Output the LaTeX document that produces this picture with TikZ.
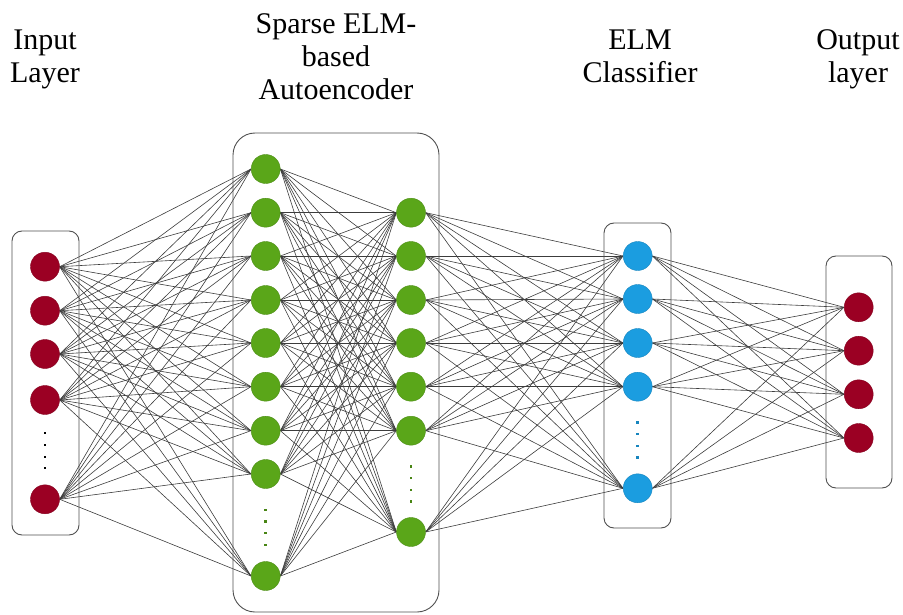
\documentclass[tikz,border=0pt]{standalone}
\usepackage{fontspec}
\setmainfont{Liberation Serif}
\usetikzlibrary{backgrounds}
\definecolor{inred}{RGB}{155,0,35}
\definecolor{aegreen}{RGB}{90,166,25}
\definecolor{elmblue}{RGB}{27,157,224}
\definecolor{framegray}{RGB}{80,80,80}
\definecolor{edgegray}{RGB}{60,60,60}
\begin{document}
\begin{tikzpicture}[x=1pt,y=-1pt,
  neuron/.style={circle,minimum size=29pt,inner sep=0pt,line width=0.4pt},
  redn/.style={neuron,fill=inred,draw=inred!85!black},
  greenn/.style={neuron,fill=aegreen,draw=aegreen!85!black},
  bluen/.style={neuron,fill=elmblue,draw=elmblue!85!black},
  edge/.style={draw=edgegray,line width=0.6pt},
  layerbox/.style={draw=framegray,line width=0.9pt},
  title/.style={align=center,anchor=base,font=\fontsize{30}{33}\selectfont}]
\useasboundingbox (0,0) rectangle (903,615);

% layer frames
\draw[layerbox,rounded corners=10pt] (12,231) rectangle (79,535);
\draw[layerbox,rounded corners=22pt] (233,133) rectangle (439,612);
\draw[layerbox,rounded corners=10pt] (604,223) rectangle (671,528);
\draw[layerbox,rounded corners=10pt] (826,256) rectangle (892,488);

% input layer
\foreach \y [count=\i] in {266.7,310.7,354,400,499.3}
  \node[redn] (in\i) at (45,\y) {};
% autoencoder, first column
\foreach \y [count=\i] in {169,212.7,256,300,343,386.7,430.7,474,576}
  \node[greenn] (al\i) at (265.7,\y) {};
% autoencoder, second column
\foreach \y [count=\i] in {212.7,256,300,343,386.7,430.7,532}
  \node[greenn] (ar\i) at (411,\y) {};
% ELM classifier
\foreach \y [count=\i] in {256,299,343,386.7,488.3}
  \node[bluen] (el\i) at (637.7,\y) {};
% output layer
\foreach \y [count=\i] in {307.3,350.7,394.3,438}
  \node[redn] (out\i) at (858.7,\y) {};

% vertical ellipsis dots
\foreach \y in {433,445,457,468}
  \fill[black] (45-1.4,\y-1.4) rectangle ++(2.8,2.8);
\foreach \y in {510,521.7,533,545}
  \fill[aegreen!80!black] (265.7-1.4,\y-1.4) rectangle ++(2.8,2.8);
\foreach \y in {466.7,478,490,501.7}
  \fill[aegreen!80!black] (411-1.4,\y-1.4) rectangle ++(2.8,2.8);
\foreach \y in {422.7,434,446,457.7}
  \fill[elmblue!85!black] (637.7-1.4,\y-1.4) rectangle ++(2.8,2.8);

% connections
\begin{scope}[on background layer]
\foreach \i in {1,...,5}
  \foreach \j in {1,...,9}
    \draw[edge] (in\i.east) -- (al\j.west);
\foreach \i in {1,...,9}
  \foreach \j in {1,...,7}
    \draw[edge] (al\i.east) -- (ar\j.west);
\foreach \i in {1,...,7}
  \foreach \j in {1,...,5}
    \draw[edge] (ar\i.east) -- (el\j.west);
\foreach \i in {1,...,5}
  \foreach \j in {1,...,4}
    \draw[edge] (el\i.east) -- (out\j.west);
\end{scope}

% layer titles (anchored at the baseline of the last line)
\node[title] (tin) at (45,83) {Input\\Layer};
\node[title] (tae) at (336,100) {Sparse ELM-\\based\\Autoencoder};
\node[title] (telm) at (640,83) {ELM\\Classifier};
\node[title] (tout) at (858,83) {Output\\layer};
\end{tikzpicture}
\end{document}
